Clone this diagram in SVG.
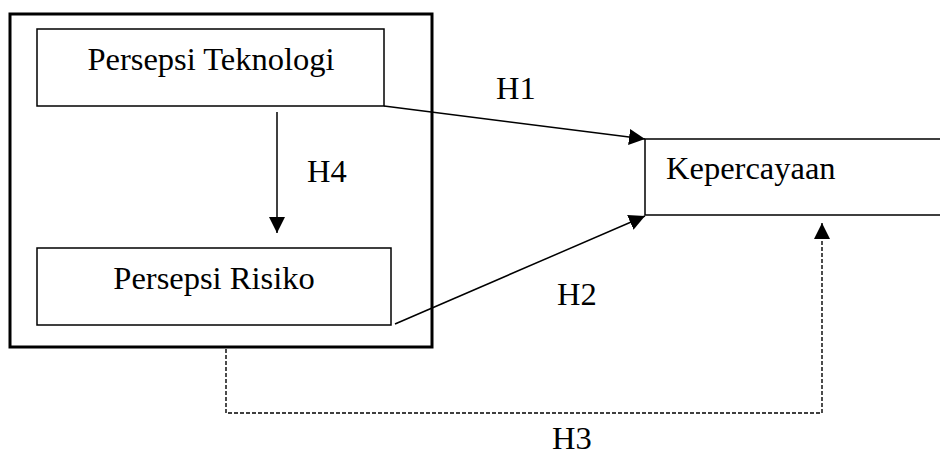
<svg xmlns="http://www.w3.org/2000/svg" width="940" height="457" viewBox="0 0 940 457">
  <style>
    .box { fill: #ffffff; stroke: #000000; stroke-width: 1.5; }
    .outer { fill: none; stroke: #000000; stroke-width: 3; }
    .lbl { font-family: "Liberation Serif", "Times New Roman", serif; font-size: 32.5px; fill: #000000; }
    .edge { fill: none; stroke: #000000; stroke-width: 1.5; }
    .dash { fill: none; stroke: #000000; stroke-width: 1.4; stroke-dasharray: 4 2; }
  </style>
  <defs>
    <marker id="arr" markerUnits="userSpaceOnUse" markerWidth="18" markerHeight="18" refX="16" refY="8" orient="auto">
      <path d="M0,0 L16,8 L0,16 Z" fill="#000000"/>
    </marker>
  </defs>
  <rect fill="#ffffff" x="0" y="0" width="940" height="457"/>
  <g id="group-outer">
    <rect class="outer" x="10" y="14" width="422" height="333"/>
  </g>
  <g id="node-teknologi">
    <rect class="box" x="37" y="29" width="347" height="77"/>
    <text class="lbl" x="211" y="70" text-anchor="middle">Persepsi Teknologi</text>
  </g>
  <g id="node-risiko">
    <rect class="box" x="37" y="248" width="354" height="77"/>
    <text class="lbl" x="214" y="289" text-anchor="middle">Persepsi Risiko</text>
  </g>
  <g id="node-kepercayaan">
    <path class="box" d="M940,139 H645 V215 H940"/>
    <text class="lbl" x="666" y="179">Kepercayaan</text>
  </g>
  <g id="connectors">
    <line class="edge" x1="384" y1="106" x2="645" y2="139" marker-end="url(#arr)"/>
    <line class="edge" x1="395" y1="324" x2="645" y2="216" marker-end="url(#arr)"/>
    <line class="edge" x1="277" y1="112" x2="277" y2="233" marker-end="url(#arr)"/>
    <polyline class="dash" points="226,349 226,413 822,413 822,223" marker-end="url(#arr)"/>
    <text class="lbl" x="496" y="99">H1</text>
    <text class="lbl" x="307" y="182">H4</text>
    <text class="lbl" x="557" y="305">H2</text>
    <text class="lbl" x="552" y="449">H3</text>
  </g>
</svg>
